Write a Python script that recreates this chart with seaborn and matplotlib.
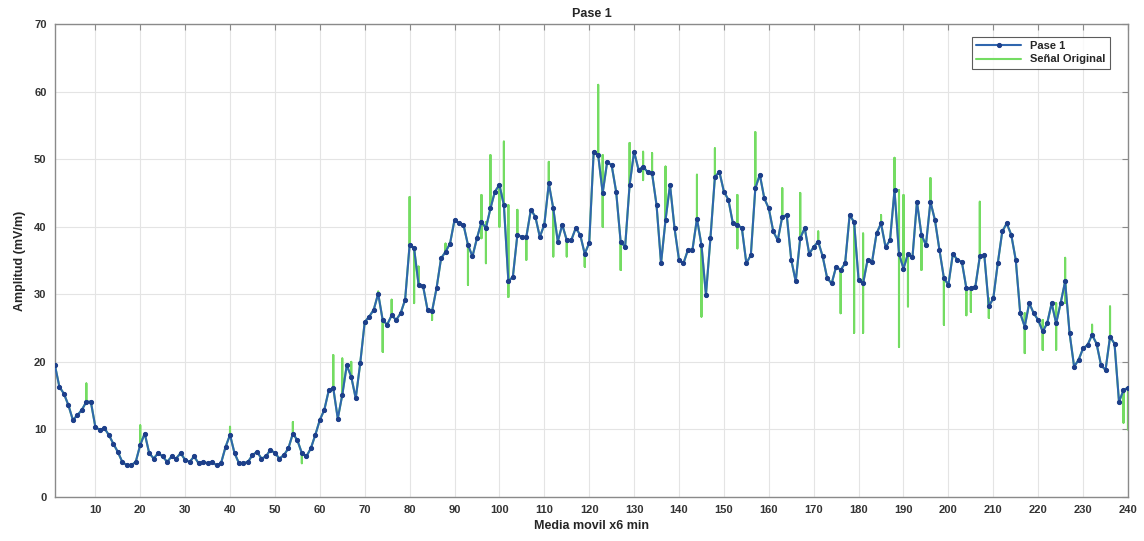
import numpy as np
import pandas as pd
import seaborn as sns
import matplotlib.pyplot as plt

sns.set_style("whitegrid")
plt.rcParams["font.family"] = ["Liberation Sans", "DejaVu Sans"]

# Data ------------------------------------------------------------------------
pase1 = [
    19.5, 16.3, 15.3, 13.6, 11.4, 12.1, 12.9, 14.1, 14.1, 10.4,
    9.9, 10.2, 9.2, 7.9, 6.7, 5.2, 4.7, 4.7, 5.2, 7.7,
    9.4, 6.5, 5.7, 6.5, 6.0, 5.2, 6.0, 5.7, 6.5, 5.5,
    5.2, 6.0, 5.0, 5.2, 5.0, 5.2, 4.7, 5.0, 7.4, 9.2,
    6.5, 5.0, 5.0, 5.2, 6.2, 6.7, 5.7, 6.0, 7.0, 6.5,
    5.7, 6.2, 7.2, 9.4, 8.4, 6.5, 6.0, 7.2, 9.2, 11.4,
    12.9, 15.8, 16.1, 11.6, 15.1, 19.5, 17.8, 14.6, 19.8, 25.9,
    26.7, 27.7, 30.1, 26.2, 25.5, 26.9, 26.2, 27.2, 29.2, 37.3,
    36.8, 31.4, 31.2, 27.7, 27.5, 30.9, 35.3, 36.3, 37.5, 41.0,
    40.5, 40.3, 37.3, 35.6, 38.3, 40.7, 39.8, 42.7, 45.2, 46.2,
    43.2, 31.9, 32.6, 38.8, 38.5, 38.5, 42.5, 41.5, 38.5, 40.3,
    46.4, 42.7, 37.8, 40.3, 38.0, 38.0, 39.8, 38.8, 36.0, 37.6,
    51.1, 50.6, 45.0, 49.6, 49.1, 45.2, 37.8, 37.0, 46.2, 51.1,
    48.4, 48.9, 48.1, 47.9, 43.2, 34.6, 41.0, 46.2, 39.8, 35.1,
    34.6, 36.6, 36.6, 41.2, 37.3, 29.9, 38.3, 47.4, 48.1, 45.2,
    44.0, 40.5, 40.3, 39.8, 34.6, 35.8, 45.7, 47.7, 44.2, 42.7,
    39.3, 38.0, 41.5, 41.7, 35.1, 31.9, 38.3, 39.8, 36.0, 37.0,
    37.8, 35.6, 32.4, 31.6, 34.1, 33.6, 34.6, 41.7, 40.7, 32.1,
    31.6, 35.1, 34.8, 39.0, 40.5, 37.0, 38.0, 45.4, 36.0, 33.8,
    36.0, 35.5, 43.7, 38.8, 37.3, 43.7, 41.0, 36.6, 32.4, 31.4,
    36.0, 35.1, 34.8, 30.9, 30.9, 31.1, 35.6, 35.8, 28.2, 29.4,
    34.6, 39.3, 40.5, 38.8, 35.1, 27.2, 25.2, 28.7, 27.2, 26.2,
    24.5, 25.7, 28.7, 25.7, 28.7, 31.9, 24.2, 19.3, 20.3, 22.0,
    22.5, 24.0, 22.7, 19.5, 18.8, 23.7, 22.7, 14.1, 15.8, 16.2,
]
minutes = list(range(1, len(pase1) + 1))

# spikes of the original signal around the moving average
spike_x = [1, 8, 20, 40, 54, 56, 63, 65, 67, 73, 74, 76, 80, 81, 82, 85, 88,
           93, 96, 97, 98, 100, 101, 102, 104, 106, 111, 112, 115, 119,
           122, 123, 127, 129, 132, 134, 137, 144, 145, 148, 153, 157, 163,
           167, 171, 176, 179, 181, 185, 188, 189, 190, 191, 194, 196, 199,
           204, 205, 207, 209, 217, 221, 224, 226, 232, 236, 239, 240]
spike_hi = [23.2, 16.8, 10.6, 10.4, 11.1, 6.5, 21.0, 20.5, 20.0, 30.4, 26.2,
            29.2, 44.4, 36.8, 34.1, 27.7, 37.5, 37.3, 44.7, 40.7, 50.6, 46.2,
            52.6, 43.2, 42.5, 38.5, 49.6, 42.7, 38.0, 36.0, 61.0, 50.6, 37.8,
            52.4, 51.1, 50.9, 48.9, 47.7, 37.3, 51.6, 44.7, 54.0, 45.7, 45.0,
            39.3, 33.6, 40.7, 39.0, 41.7, 50.2, 45.4, 44.7, 36.0, 38.8, 47.2,
            32.4, 30.9, 30.9, 43.7, 29.4, 27.2, 26.2, 28.7, 35.4, 25.5, 28.2,
            15.8, 16.2]
spike_lo = [19.5, 14.1, 7.7, 9.2, 9.4, 5.0, 16.1, 15.1, 17.8, 30.1, 21.5,
            26.9, 37.3, 28.7, 31.4, 26.2, 36.3, 31.4, 38.3, 34.6, 42.7, 40.0,
            43.2, 29.6, 38.8, 35.1, 46.4, 35.6, 35.6, 34.1, 51.1, 40.0, 33.6,
            46.2, 46.9, 47.9, 41.0, 41.2, 26.7, 47.4, 36.8, 45.7, 41.5, 38.3,
            37.8, 27.2, 24.3, 24.3, 40.5, 45.4, 22.2, 33.8, 28.2, 33.6, 43.7,
            25.5, 26.9, 27.4, 35.6, 26.5, 21.3, 21.8, 21.8, 28.7, 24.0, 23.7,
            11.0, 10.0]

# Build the original-signal path --------------------------------------------
gx, gy = [], []
spikes = {x: (h, l) for x, h, l in zip(spike_x, spike_hi, spike_lo)}
for x, v in zip(minutes, pase1):
    gx.append(x)
    gy.append(v)
    if x in spikes:
        h, l = spikes[x]
        gx += [x, x, x]
        gy += [h, l, v]
green = pd.DataFrame({"t": gx, "amp": gy})
blue = pd.DataFrame({"t": minutes, "amp": pase1})

# Plot ------------------------------------------------------------------------
fig = plt.figure(figsize=(11.44, 5.41), dpi=100)
ax = fig.add_axes([0.048, 0.0813, 0.938, 0.8743])

sns.lineplot(data=green, x="t", y="amp", estimator=None, sort=False,
             color="#74dc62", lw=1.5, marker=".", markersize=1.5,
             markeredgewidth=0, label="Señal Original", ax=ax, zorder=2)
sns.lineplot(data=blue, x="t", y="amp", estimator=None, sort=False,
             color="#2f66ae", lw=1.5, marker="o", markersize=3.0,
             markerfacecolor="#1d3f8a", markeredgecolor="#1d3f8a",
             label="Pase 1", ax=ax, zorder=3)

ax.set_xlim(1, 240)
ax.set_ylim(0, 70)
ax.set_xticks(range(10, 241, 10))
ax.set_yticks(range(0, 71, 10))
ax.grid(True, color="#e4e4e4", lw=0.8)
for s in ax.spines.values():
    s.set_color("#8a8a8a")
    s.set_linewidth(1.0)
ax.tick_params(direction="in", top=True, right=True, length=4,
               color="#8a8a8a", labelsize=8, labelcolor="#333333", pad=6)
for lab in ax.get_xticklabels() + ax.get_yticklabels():
    lab.set_fontweight("bold")

ax.set_xlabel("Media movil x6 min", fontsize=9, fontweight="bold",
              color="#262626", labelpad=3)
ax.set_ylabel("Amplitud (mV/m)", fontsize=9, fontweight="bold",
              color="#262626", labelpad=6)
ax.set_title("Pase 1", fontsize=9, fontweight="bold", color="#262626", pad=5)

h, l = ax.get_legend_handles_labels()
leg = ax.legend(h[::-1], l[::-1], loc="upper right", fontsize=8,
                frameon=True, fancybox=False, edgecolor="#333333",
                borderpad=0.4, handlelength=4.0, labelspacing=0.3,
                bbox_to_anchor=(0.988, 0.985))
leg.get_frame().set_linewidth(0.8)
for t in leg.get_texts():
    t.set_fontweight("bold")

fig.savefig("out.png", dpi=100)
